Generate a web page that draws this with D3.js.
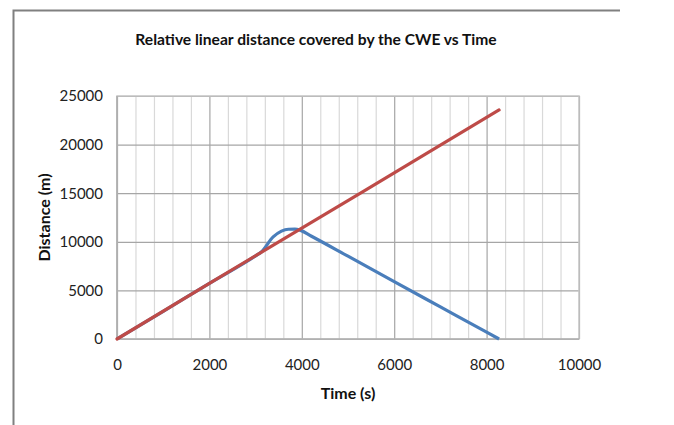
<!DOCTYPE html>
<html>
<head>
<meta charset="utf-8">
<script src="https://cdn.jsdelivr.net/npm/d3@7"></script>
<style>
  body { margin: 0; background: #fff; }
  svg { display: block; }
</style>
</head>
<body>
<svg id="chart"></svg>
<script>
// values
const redTime = [0, 2000, 4000, 6000, 8000, 8270];
const redDistance = [0, 5730, 11400, 17100, 22800, 23560];

const blueTime = [0, 1000, 2000, 3000, 3130, 3380, 3560, 3710, 3850, 3960, 4200, 5000, 6000, 7000, 8000, 8270];
const blueDistance = [0, 2850, 5730, 8560, 8980, 10500, 11100, 11290, 11300, 11200, 10600, 8520, 5900, 3300, 700, 0];

const xTicks = [0, 2000, 4000, 6000, 8000, 10000];
const yTicks = [0, 5000, 10000, 15000, 20000, 25000];
const xMinorStep = 400;

const chartTitle = "Relative linear distance covered by the CWE vs Time";
const xTitle = "Time (s)";
const yTitle = "Distance (m)";

const W = 674, H = 425;
const margin = { left: 117, top: 96, right: 95, bottom: 86 };
const width = W - margin.left - margin.right;
const height = H - margin.top - margin.bottom;

const labelFont = "Lato, 'Open Sans', sans-serif";
const titleFont = "Lato, 'Open Sans', sans-serif";

const svg = d3.select("#chart")
  .attr("width", W)
  .attr("height", H);

// outer frame (only top and left edges visible)
svg.append("path")
  .attr("d", "M13.5,425 L13.5,10.5 L620,10.5")
  .attr("fill", "none")
  .attr("stroke", "#808080")
  .attr("stroke-width", 2);

const g = svg.append("g")
  .attr("transform", `translate(${margin.left},${margin.top})`);

// scales
const xScale = d3.scaleLinear().domain([0, 10000]).range([0, width]);
const yScale = d3.scaleLinear().domain([0, 25000]).range([height, 0]);

// vertical grid lines, minor every 400 and major every 2000
const minorValues = d3.range(0, 10001, xMinorStep);
g.append("g")
  .attr("class", "grid-x")
  .attr("transform", `translate(0,${height})`)
  .call(d3.axisBottom(xScale).tickValues(minorValues).tickSize(-height).tickFormat(""))
  .call(sel => sel.select(".domain").remove())
  .selectAll("line")
  .attr("stroke", d => (d % 2000 === 0 ? "#a6a6a6" : "#d9d9d9"))
  .attr("stroke-width", 1.2);

// horizontal grid lines
g.append("g")
  .attr("class", "grid-y")
  .call(d3.axisLeft(yScale).tickValues(yTicks).tickSize(-width).tickFormat(""))
  .call(sel => sel.select(".domain").remove())
  .selectAll("line")
  .attr("stroke", "#a6a6a6")
  .attr("stroke-width", 1.2);

// plot border
g.append("rect")
  .attr("x", 0)
  .attr("y", 0)
  .attr("width", width)
  .attr("height", height)
  .attr("fill", "none")
  .attr("stroke", "#c4c4c4")
  .attr("stroke-width", 1.5);

g.append("line")
  .attr("x1", 0).attr("x2", 0)
  .attr("y1", 0).attr("y2", height)
  .attr("stroke", "#a6a6a6")
  .attr("stroke-width", 1.2);
g.append("line")
  .attr("x1", 0).attr("x2", width)
  .attr("y1", height).attr("y2", height)
  .attr("stroke", "#a6a6a6")
  .attr("stroke-width", 1.2);

// axes
const xAxis = g.append("g")
  .attr("class", "x axis")
  .attr("transform", `translate(0,${height})`)
  .call(d3.axisBottom(xScale).tickValues(xTicks).tickSize(0).tickPadding(20).tickFormat(d3.format("d")));

const yAxis = g.append("g")
  .attr("class", "y axis")
  .call(d3.axisLeft(yScale).tickValues(yTicks).tickSize(0).tickPadding(14).tickFormat(d3.format("d")));

svg.selectAll(".axis .domain").remove();
svg.selectAll(".axis text")
  .style("font-family", labelFont)
  .style("font-size", "15px")
  .attr("fill", "#222");

// series
const redData = redTime.map((t, i) => ({ t, d: redDistance[i] }));
const blueData = blueTime.map((t, i) => ({ t, d: blueDistance[i] }));

const line = d3.line()
  .x(p => xScale(p.t))
  .y(p => yScale(p.d))
  .curve(d3.curveMonotoneX);

g.append("path")
  .datum(blueData)
  .attr("class", "blue-line")
  .attr("d", line)
  .attr("fill", "none")
  .attr("stroke", "#4a7ebb")
  .attr("stroke-width", 3.2)
  .attr("stroke-linejoin", "round");

g.append("path")
  .datum(redData)
  .attr("class", "red-line")
  .attr("d", line)
  .attr("fill", "none")
  .attr("stroke", "#be4b48")
  .attr("stroke-width", 3.2)
  .attr("stroke-linecap", "round");

// titles
svg.append("text")
  .attr("x", 316)
  .attr("y", 45)
  .attr("text-anchor", "middle")
  .style("font-family", titleFont)
  .style("font-size", "15.6px")
  .style("font-weight", "bold")
  .attr("fill", "#111")
  .text(chartTitle);

svg.append("text")
  .attr("x", margin.left + width / 2)
  .attr("y", 399)
  .attr("text-anchor", "middle")
  .style("font-family", titleFont)
  .style("font-size", "16px")
  .style("font-weight", "bold")
  .attr("fill", "#111")
  .text(xTitle);

svg.append("text")
  .attr("transform", `translate(50,${margin.top + height / 2}) rotate(-90)`)
  .attr("text-anchor", "middle")
  .style("font-family", titleFont)
  .style("font-size", "16px")
  .style("font-weight", "bold")
  .attr("fill", "#111")
  .text(yTitle);
</script>
</body>
</html>
